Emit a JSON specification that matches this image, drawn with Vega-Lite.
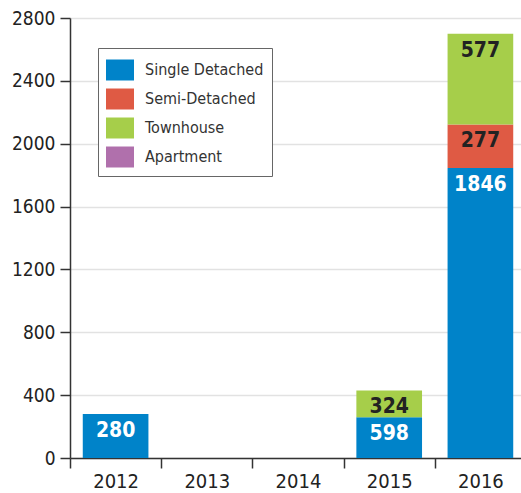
{
  "$schema": "https://vega.github.io/schema/vega-lite/v6.json",
  "autosize": "none",
  "width": 456,
  "height": 440,
  "padding": {"left": 70, "top": 18, "right": 0, "bottom": 35},
  "background": "white",
  "config": {
    "view": {"stroke": null},
    "font": "DejaVu Sans Condensed, sans-serif"
  },
  "data": {
    "values": [
      {"year": "2012", "type": "Single Detached", "rank": 1, "value": 280, "label": "280"},
      {"year": "2015", "type": "Single Detached", "rank": 1, "value": 260, "label": "598"},
      {"year": "2015", "type": "Townhouse", "rank": 3, "value": 170, "label": "324"},
      {"year": "2016", "type": "Single Detached", "rank": 1, "value": 1846, "label": "1846"},
      {"year": "2016", "type": "Semi-Detached", "rank": 2, "value": 277, "label": "277"},
      {"year": "2016", "type": "Townhouse", "rank": 3, "value": 577, "label": "577"}
    ]
  },
  "encoding": {
    "x": {
      "field": "year",
      "type": "nominal",
      "sort": ["2012", "2013", "2014", "2015", "2016"],
      "scale": {"domain": ["2012", "2013", "2014", "2015", "2016"], "paddingInner": 0, "paddingOuter": 0},
      "axis": {
        "title": null,
        "labelAngle": 0,
        "bandPosition": 0,
        "tickBand": "extent",
        "domainColor": "#333",
        "domainWidth": 1.5,
        "tickColor": "#333",
        "tickWidth": 1.5,
        "tickSize": 10,
        "labelFontSize": 20,
        "labelColor": "#222",
        "labelPadding": 3,
        "grid": false
      }
    },
    "y": {
      "field": "value",
      "type": "quantitative",
      "stack": "zero",
      "scale": {"domain": [0, 2800], "nice": false},
      "axis": {
        "title": null,
        "values": [0, 400, 800, 1200, 1600, 2000, 2400, 2800],
        "format": "d",
        "domainColor": "#333",
        "domainWidth": 1.5,
        "tickColor": "#333",
        "tickWidth": 1.5,
        "tickSize": 10,
        "labelFontSize": 19,
        "labelColor": "#222",
        "labelPadding": 5,
        "gridColor": "#e2e2e2",
        "gridWidth": 1.5
      }
    },
    "order": {"field": "rank", "type": "quantitative", "sort": "ascending"}
  },
  "layer": [
    {
      "mark": {"type": "bar", "width": {"band": 0.72}},
      "encoding": {
        "color": {
          "field": "type",
          "type": "nominal",
          "sort": ["Single Detached", "Semi-Detached", "Townhouse", "Apartment"],
          "scale": {
            "domain": ["Single Detached", "Semi-Detached", "Townhouse", "Apartment"],
            "range": ["#0083c9", "#df5a44", "#a6ce4a", "#b070ac"]
          },
          "legend": {
            "title": null,
            "orient": "none",
            "legendX": 28,
            "legendY": 30,
            "padding": 8,
            "strokeColor": "#666",
            "fillColor": "white",
            "symbolType": "M-1,-0.75H1V0.75H-1Z",
            "symbolSize": 784,
            "symbolStrokeWidth": 0,
            "symbolOpacity": 1,
            "labelFontSize": 16,
            "labelColor": "#333",
            "labelOffset": 11,
            "rowPadding": 4
          }
        }
      }
    },
    {
      "mark": {"type": "text", "baseline": "middle", "dy": 17, "fontSize": 21, "fontWeight": "bold"},
      "encoding": {
        "text": {"field": "label"},
        "detail": {"field": "type"},
        "color": {
          "condition": {"test": "datum.type === 'Single Detached'", "value": "white"},
          "value": "#222"
        }
      }
    }
  ]
}
